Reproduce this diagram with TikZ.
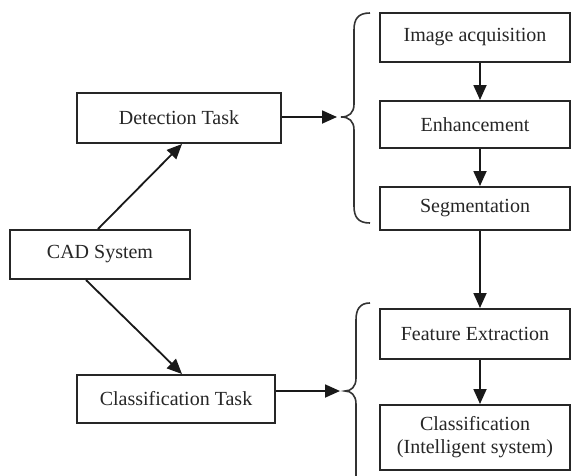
\documentclass[tikz,border=0pt]{standalone}
\usepackage{fontspec}
\setmainfont{Liberation Serif}
\usetikzlibrary{arrows.meta}
\begin{document}
\begin{tikzpicture}[x=1pt,y=-1pt,
  box/.style={draw=black!85,line width=2pt,fill=white,inner sep=0pt,align=center,
    text=black!85,font=\fontsize{20}{23}\selectfont},
  arr/.style={draw=black!90,line width=1.8pt,-{Triangle[length=15pt,width=13pt]}},
  bracestyle/.style={draw=black!80,line width=1.6pt}]
\useasboundingbox (0,0) rectangle (571,475);
\fill[white] (0,0) rectangle (571,475);

\node[box,minimum width=204pt,minimum height=50pt] (det) at (179,118) {Detection Task};
\node[box,minimum width=180pt,minimum height=49pt] (cad) at (100,254.5) {CAD System};
\node[box,minimum width=198pt,minimum height=48pt] (cls) at (176,399) {Classification Task};

\node[box,minimum width=190pt,minimum height=49pt] (img) at (475,37.5) {Image acquisition};
\node[box,minimum width=190pt,minimum height=47pt] (enh) at (475,124.5) {Enhancement};
\node[box,minimum width=190pt,minimum height=43pt] (seg) at (475,208.5) {Segmentation};
\node[box,minimum width=190pt,minimum height=50pt] (fea) at (475,334) {Feature Extraction};
\node[box,minimum width=190pt,minimum height=65pt] (cla) at (475,437.5) {Classification\\(Intelligent system)};

% braces
\coordinate (b1) at (341,117);
\coordinate (b2) at (345,391);
\draw[bracestyle] (370,13) .. controls (358,13) and (354,19) .. (354,30)
  -- (354,104) .. controls (354,113) and (349,117) .. (b1)
  .. controls (349,117) and (354,121) .. (354,130)
  -- (354,206) .. controls (354,217) and (358,223) .. (370,223);
\draw[bracestyle] (370,303) .. controls (360,303) and (356,309) .. (356,320)
  -- (356,378) .. controls (356,387) and (351,391) .. (b2)
  .. controls (351,391) and (356,395) .. (356,404)
  -- (356,476);

% connectors
\draw[arr] ([xshift=-2pt]cad.north) -- ([xshift=3pt]det.south);
\draw[arr] ([xshift=-14pt]cad.south) -- ([xshift=6pt]cls.north);
\draw[arr,shorten >=4pt] (det.east |- b1) -- (b1);
\draw[arr,shorten >=5pt] (cls.east |- b2) -- (b2);
\draw[arr] ([xshift=5pt]img.south) -- ([xshift=5pt]enh.north);
\draw[arr] ([xshift=5pt]enh.south) -- ([xshift=5pt]seg.north);
\draw[arr] ([xshift=5pt]seg.south) -- ([xshift=5pt]fea.north);
\draw[arr] ([xshift=5pt]fea.south) -- ([xshift=5pt]cla.north);
\end{tikzpicture}
\end{document}
